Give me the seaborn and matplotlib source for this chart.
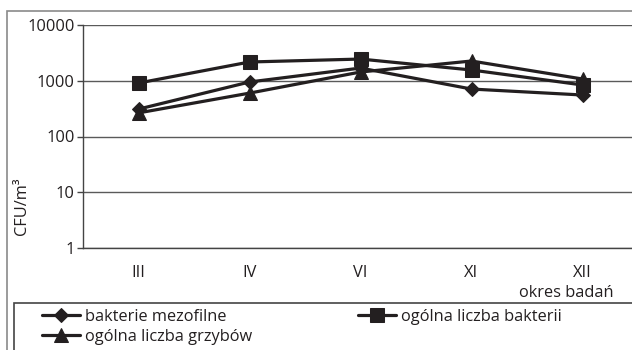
import matplotlib
matplotlib.use("Agg")
import pandas as pd
import matplotlib.pyplot as plt
import seaborn as sns
from matplotlib.patches import Rectangle
from matplotlib.ticker import FixedLocator, NullFormatter

months = ["III", "IV", "VI", "XI", "XII"]
mezofilne = [310, 950, 1690, 710, 555]
bakterie = [910, 2170, 2450, 1560, 840]
grzyby = [265, 600, 1435, 2260, 1075]

series_names = ["bakterie mezofilne", "ogólna liczba bakterii", "ogólna liczba grzybów"]
rows = []
for name, vals in zip(series_names, [mezofilne, bakterie, grzyby]):
    for m, v in zip(months, vals):
        rows.append({"okres": m, "CFU": v, "seria": name})
df = pd.DataFrame(rows)

sns.set_style("white")
plt.rcParams["font.family"] = ["Open Sans", "DejaVu Sans"]
fs = 11.8
plt.rcParams["font.size"] = fs

W, H = 632, 350
ink = "#231f20"
fig = plt.figure(figsize=(W / 100, H / 100), dpi=100)
ax = fig.add_axes([83 / W, 1 - 248 / H, (638 - 83) / W, (248 - 25) / H])

markers = {"bakterie mezofilne": "D", "ogólna liczba bakterii": "s", "ogólna liczba grzybów": "^"}
sizes = {"bakterie mezofilne": 7, "ogólna liczba bakterii": 9.5, "ogólna liczba grzybów": 9.5}
handles = {}
for name in series_names:
    sub = df[df["seria"] == name]
    sns.lineplot(data=sub, x="okres", y="CFU", ax=ax, color=ink, linewidth=2.3,
                 marker=markers[name], markersize=sizes[name], markeredgecolor=ink,
                 markerfacecolor=ink, sort=False, zorder=3)
    handles[name] = ax.lines[-1]

ax.set_yscale("log")
ax.set_ylim(1, 10000)
ax.set_xlim(-0.5, 4.5)
ax.set_yticks([1, 10, 100, 1000, 10000])
ax.set_yticklabels(["1", "10", "100", "1000", "10000"])
ax.yaxis.set_minor_locator(FixedLocator([]))
ax.yaxis.grid(True, color="#5a5a5a", linewidth=1)
ax.xaxis.grid(False)
ax.set_xticks(range(len(months)))
ax.set_xticklabels(months)
ax.xaxis.set_minor_locator(FixedLocator([i - 0.5 for i in range(len(months) + 1)]))
ax.xaxis.set_minor_formatter(NullFormatter())
ax.tick_params(axis="x", which="major", length=0, pad=12, labelsize=fs, colors=ink)
ax.tick_params(axis="x", which="minor", length=4, width=1, color="#444444", direction="out")
ax.tick_params(axis="y", which="major", length=4, width=1, color="#444444", direction="out",
               pad=2, labelsize=fs, labelcolor=ink, left=True)
ax.set_xlabel("")
ax.set_ylabel("")
for s in ["top", "right"]:
    ax.spines[s].set_visible(False)
for s in ["left", "bottom"]:
    ax.spines[s].set_color("#444444")
    ax.spines[s].set_linewidth(1)

fig.text(22 / W, 1 - 206 / H, "CFU/m³", rotation=90, ha="center", va="center",
         fontsize=fs, color=ink)
fig.text(566 / W, 1 - 293 / H, "okres badań", ha="center", va="center",
         fontsize=fs, color=ink)

# outer chart frame and legend box
fig.patches.append(Rectangle((7 / W, -0.1), 1.1, 1 - 11 / H + 0.1, transform=fig.transFigure,
                             fill=False, edgecolor="#8a8a8a", linewidth=1.2))
fig.patches.append(Rectangle((14 / W, -0.1), 1.1, 1 - 303 / H + 0.1, transform=fig.transFigure,
                             fill=False, edgecolor="#444444", linewidth=1.2))

leg_kw = dict(frameon=False, loc="upper left", borderpad=0, borderaxespad=0,
              handlelength=2.3, handletextpad=0.35, labelspacing=0.25, fontsize=fs,
              labelcolor=ink)
fig.legend([handles["bakterie mezofilne"], handles["ogólna liczba grzybów"]],
           ["bakterie mezofilne", "ogólna liczba grzybów"],
           bbox_to_anchor=(42 / W, 1 - 309 / H), **leg_kw)
fig.legend([handles["ogólna liczba bakterii"]], ["ogólna liczba bakterii"],
           bbox_to_anchor=(358 / W, 1 - 309 / H), **leg_kw)

fig.savefig("out.png", dpi=100)
